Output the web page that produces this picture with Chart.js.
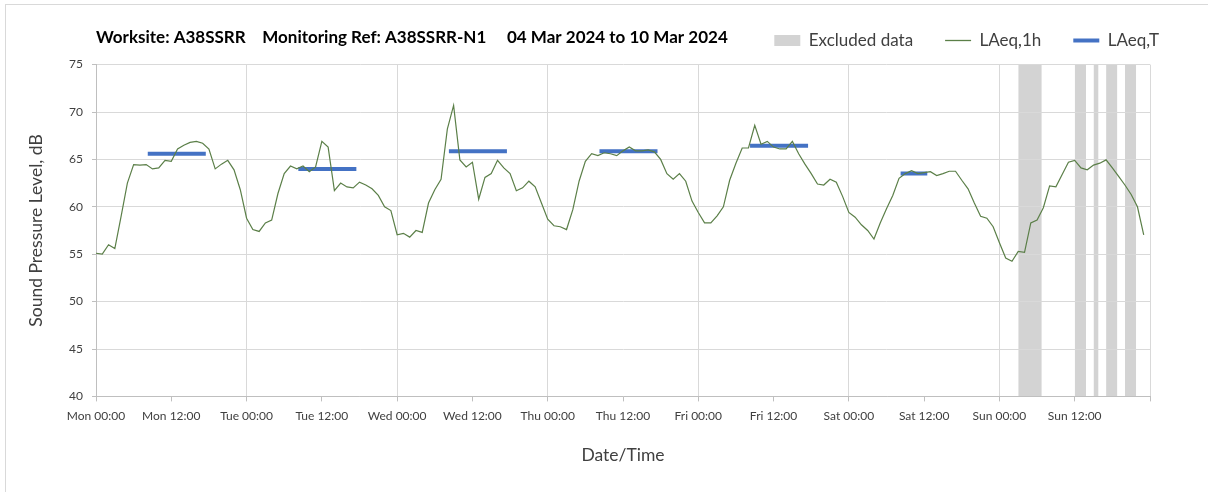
<!DOCTYPE html>
<html>
<head>
<meta charset="utf-8">
<script src="https://cdn.jsdelivr.net/npm/chart.js@4"></script>
<style>
  html, body { margin: 0; padding: 0; background: #fff; }
  #wrap { position: relative; width: 1208px; height: 492px; }
  #frame { position: absolute; left: 5px; top: 4px; right: 0; bottom: 0; border-left: 1px solid #d9d9d9; border-top: 1px solid #d9d9d9; pointer-events: none; }
  canvas { position: absolute; left: 0; top: 0; }
</style>
</head>
<body>
<div id="wrap"><div id="frame"></div><canvas id="c"></canvas></div>
<script>
// ---- data (hourly LAeq,1h values, dB) ----
const monValues = [55.1, 55.0, 56.0, 55.6, 59.0, 62.5, 64.45, 64.4, 64.45, 64.0, 64.1, 64.9, 64.8, 66.1, 66.5, 66.8, 66.9, 66.7, 66.1, 64.0, 64.5, 64.9, 63.9, 61.8];
const tueValues = [58.8, 57.6, 57.4, 58.3, 58.6, 61.4, 63.5, 64.3, 64.0, 64.3, 63.7, 64.2, 66.9, 66.3, 61.7, 62.5, 62.1, 62.0, 62.6, 62.3, 61.9, 61.2, 60.0, 59.6];
const wedValues = [57.05, 57.2, 56.8, 57.5, 57.3, 60.4, 61.8, 62.9, 68.2, 70.7, 64.95, 64.2, 64.7, 60.8, 63.1, 63.5, 64.9, 64.1, 63.5, 61.7, 62.0, 62.7, 62.1, 60.4];
const thuValues = [58.7, 58.0, 57.9, 57.6, 59.7, 62.7, 64.8, 65.6, 65.4, 65.7, 65.6, 65.4, 65.9, 66.3, 65.9, 65.9, 66.0, 65.8, 65.0, 63.5, 62.9, 63.5, 62.7, 60.6];
const friValues = [59.4, 58.3, 58.3, 59.05, 60.0, 62.8, 64.6, 66.2, 66.2, 68.6, 66.6, 66.9, 66.3, 66.1, 66.1, 66.9, 65.6, 64.5, 63.5, 62.4, 62.3, 62.9, 62.6, 61.1];
const satValues = [59.4, 58.9, 58.1, 57.5, 56.6, 58.3, 59.8, 61.2, 63.0, 63.5, 63.8, 63.5, 63.6, 63.7, 63.3, 63.5, 63.75, 63.75, 62.8, 61.9, 60.4, 59.0, 58.8, 57.9];
const sunValues = [56.2, 54.6, 54.25, 55.3, 55.2, 58.3, 58.6, 59.9, 62.2, 62.1, 63.4, 64.7, 64.9, 64.1, 63.9, 64.4, 64.6, 64.95, 64.1, 63.2, 62.3, 61.3, 60.0, 57.05];

// LAeq,T periods (hours from Mon 00:00) and levels
const laeqTStart = [8.25, 32.25, 56.25, 80.25, 104.25, 128.25];
const laeqTEnd   = [17.5, 41.5, 65.5, 89.5, 113.5, 132.5];
const laeqTValues = [65.6, 64.0, 65.85, 65.85, 66.45, 63.5];

// Excluded data periods (hours from Mon 00:00)
const excludedStart = [147, 156, 159, 161, 164];
const excludedEnd   = [150.75, 157.8, 159.8, 162.8, 165.8];

// x tick labels (every 12 h)
const tickLabels = ['Mon 00:00','Mon 12:00','Tue 00:00','Tue 12:00','Wed 00:00','Wed 12:00','Thu 00:00','Thu 12:00','Fri 00:00','Fri 12:00','Sat 00:00','Sat 12:00','Sun 00:00','Sun 12:00',''];

const titleText = 'Worksite: A38SSRR    Monitoring Ref: A38SSRR-N1     04 Mar 2024 to 10 Mar 2024';

// ---- build datasets ----
const hourly = [].concat(monValues, tueValues, wedValues, thuValues, friValues, satValues, sunValues);
const hourlyPts = hourly.map((v, i) => ({ x: i, y: v }));

const laeqTPts = [];
laeqTValues.forEach((v, i) => {
  laeqTPts.push({ x: laeqTStart[i], y: v }, { x: laeqTEnd[i], y: v }, { x: laeqTEnd[i], y: null });
});

const Y_MIN = 40, Y_MAX = 75;
const excludedPts = [];
excludedStart.forEach((s, i) => {
  excludedPts.push({ x: s, y: Y_MAX }, { x: excludedEnd[i], y: Y_MAX }, { x: excludedEnd[i], y: null });
});

const GREEN = '#5b7f48', BLUE = '#4472c4', GREY = '#d3d3d3';
const FONT = 'Lato, "Open Sans", sans-serif';
Chart.defaults.font.family = FONT;
Chart.defaults.color = '#404040';

new Chart(document.getElementById('c'), {
  type: 'line',
  data: {
    datasets: [
      { label: 'LAeq,1h', data: hourlyPts, borderColor: GREEN, borderWidth: 1.2, pointRadius: 0, tension: 0, fill: false },
      { label: 'LAeq,T', data: laeqTPts, borderColor: BLUE, borderWidth: 4, pointRadius: 0, spanGaps: false, fill: false },
      { label: 'Excluded data', data: excludedPts, borderColor: 'rgba(0,0,0,0)', borderWidth: 0, pointRadius: 0, spanGaps: false, backgroundColor: GREY, fill: 'start' }
    ]
  },
  options: {
    responsive: true,
    maintainAspectRatio: false,
    animation: false,
    events: [],
    layout: { padding: { left: 10, right: 17, top: 0, bottom: 0 } },
    plugins: {
      filler: { drawTime: 'beforeDraw' },
      tooltip: { enabled: false },
      title: {
        display: true, text: titleText, align: 'start', fullSize: false, color: '#000',
        font: { size: 17, weight: 'bold', lineHeight: 1.2 },
        padding: { top: 27, bottom: -47.4 }
      },
      subtitle: {
        display: true, text: ' ', weight: 500, font: { size: 1, lineHeight: 1 },
        padding: { top: 4.6, bottom: 0 }
      },
      legend: {
        display: true, position: 'top', align: 'end',
        labels: {
          usePointStyle: true, pointStyleWidth: 26, boxHeight: 11, padding: 32,
          font: { size: 17 }, color: '#404040',
          generateLabels: () => [
            { text: 'Excluded data', pointStyle: 'rect', fillStyle: GREY, strokeStyle: GREY, lineWidth: 0, fontColor: '#404040' },
            { text: 'LAeq,1h', pointStyle: 'line', fillStyle: GREEN, strokeStyle: GREEN, lineWidth: 1.3, fontColor: '#404040' },
            { text: 'LAeq,T', pointStyle: 'line', fillStyle: BLUE, strokeStyle: BLUE, lineWidth: 4, fontColor: '#404040' }
          ]
        }
      }
    },
    scales: {
      x: {
        type: 'linear', min: 0, max: 168,
        afterFit: (s) => { s.height = 95.6; },
        ticks: {
          stepSize: 12, autoSkip: false, maxRotation: 0, padding: 8,
          font: { size: 12 }, color: '#404040',
          callback: (v, i) => tickLabels[i] ?? ''
        },
        grid: {
          color: (ctx) => (ctx.tick && ctx.tick.value % 24 === 0) ? '#d9d9d9' : 'rgba(0,0,0,0)',
          tickColor: '#bfbfbf', tickLength: 5, lineWidth: 1
        },
        border: { color: '#bfbfbf' },
        title: { display: true, text: 'Date/Time', font: { size: 17.5 }, color: '#404040', padding: { top: 4, bottom: 26.5 } }
      },
      y: {
        type: 'linear', min: Y_MIN, max: Y_MAX,
        afterFit: (s) => { s.width = 86; },
        ticks: { stepSize: 5, padding: 9, font: { size: 12 }, color: '#404040' },
        grid: { color: '#d9d9d9', tickColor: '#bfbfbf', tickLength: 4 },
        border: { color: '#bfbfbf' },
        title: { display: true, text: 'Sound Pressure Level, dB', font: { size: 17.5 }, color: '#404040', padding: { top: 16, bottom: 4 } }
      },
      ySpacer: {
        type: 'linear', position: 'right', display: true,
        afterFit: (s) => { s.width = 41; },
        ticks: { display: false },
        grid: { display: false, drawTicks: false },
        border: { display: false }
      }
    }
  }
});
</script>
</body>
</html>
